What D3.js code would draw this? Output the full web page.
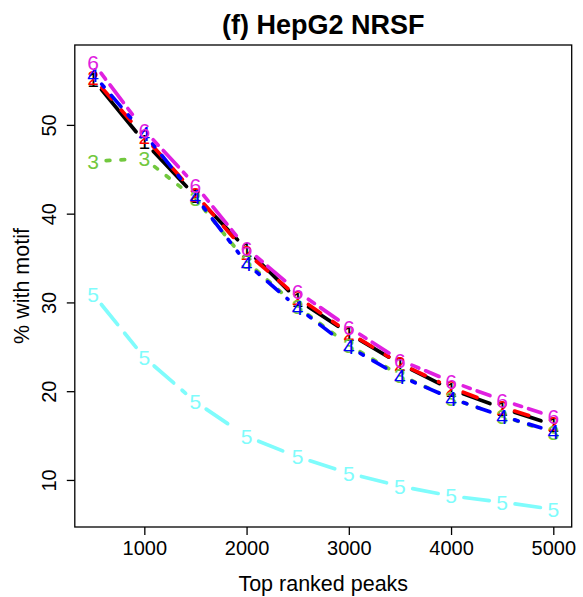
<!DOCTYPE html>
<html>
<head>
<meta charset="utf-8">
<script src="https://cdn.jsdelivr.net/npm/d3@7"></script>
<style>
  body { margin: 0; background: white; }
  text { font-family: "Liberation Sans", Arial, sans-serif; }
</style>
</head>
<body>
<div id="chart"></div>
<script>
// data
var peaks = [500, 1000, 1500, 2000, 2500, 3000, 3500, 4000, 4500, 5000]
var s1 = [55.1, 48.1, 42.0, 36.0, 30.3, 26.5, 23.1, 20.2, 18.1, 16.2]
var s2 = [55.3, 48.7, 42.2, 35.6, 30.6, 26.6, 23.1, 20.4, 18.2, 16.4]
var s3 = [45.9, 46.2, 41.7, 34.6, 29.5, 25.2, 21.8, 19.2, 17.2, 15.3]
var s4 = [55.7, 49.0, 41.9, 34.4, 29.4, 25.0, 21.7, 19.2, 17.2, 15.45]
var s5 = [30.9, 23.8, 18.8, 14.9, 12.6, 10.75, 9.3, 8.2, 7.5, 6.7]
var s6 = [57.0, 49.4, 43.2, 36.1, 31.2, 27.2, 23.5, 21.1, 19.0, 17.1]
var seriesNames = ["1", "2", "3", "4", "5", "6"]
var xTicks = [1000, 2000, 3000, 4000, 5000]
var yTicks = [10, 20, 30, 40, 50]

var colors = ["#000000", "#ff0000", "#72c83e", "#0000ff", "#7ffcfc", "#e020e0"]
var lw = 3.7
// R lty patterns, in units of line width
var ltys = [null, [4, 4], [1, 3], [1, 3, 4, 3], [7, 3], [2, 2, 6, 2]]

drawchart()

function drawchart() {
	var allSeries = [s1, s2, s3, s4, s5, s6]
	var L = 74.8, R = 571.7, T = 45, B = 527

	var svg = d3.select("#chart")
		.append("svg")
		.attr("width", 583)
		.attr("height", 597)

	const xScale = d3.scaleLinear()
		.domain([320, 5180])
		.range([L, R]);

	const yScale = d3.scaleLinear()
		.domain([4.7, 59.0])
		.range([B, T]);

	// title
	svg.append("text")
		.attr("x", (L + R) / 2)
		.attr("y", 34)
		.style("text-anchor", "middle")
		.style("font-size", "27px")
		.style("font-weight", "bold")
		.text("(f) HepG2 NRSF")

	// axes
	const xAxis = d3.axisBottom(xScale)
		.tickValues(xTicks)
		.tickSize(8)
		.tickPadding(6)
		.tickFormat(d3.format("d"));
	const yAxis = d3.axisLeft(yScale)
		.tickValues(yTicks)
		.tickSize(8)
		.tickFormat(d3.format("d"));

	var gx = svg.append("g")
		.attr("transform", "translate(0," + B + ")")
		.call(xAxis)
	gx.select(".domain").remove()
	gx.selectAll("line").attr("stroke", "#000").attr("stroke-width", 1.3)
	gx.selectAll("text")
		.style("font-size", "20px")
		.style("font-family", "'Liberation Sans', Arial, sans-serif")
		.attr("fill", "#000")

	var gy = svg.append("g")
		.attr("transform", "translate(" + L + ", 0)")
		.call(yAxis)
	gy.select(".domain").remove()
	gy.selectAll("line").attr("stroke", "#000").attr("stroke-width", 1.3)
	gy.selectAll("text")
		.attr("x", 0)
		.attr("dy", 0)
		.attr("transform", "translate(-19, 0) rotate(-90)")
		.style("text-anchor", "middle")
		.style("font-size", "20px")
		.style("font-family", "'Liberation Sans', Arial, sans-serif")
		.attr("fill", "#000")

	// axis names
	svg.append("text")
		.attr("x", (L + R) / 2)
		.attr("y", 591)
		.style("text-anchor", "middle")
		.style("font-size", "21.5px")
		.text("Top ranked peaks")

	svg.append("text")
		.attr("transform", "translate(29," + (T + B) / 2 + ") rotate(-90)")
		.style("text-anchor", "middle")
		.style("font-size", "21.5px")
		.text("% with motif")

	// series: type="b" -> segments with gaps, digit as point symbol
	var gap = 13
	allSeries.forEach(function(vals, k) {
		var pts = peaks.map((p, i) => [xScale(p), yScale(vals[i])])
		var g = svg.append("g").attr("class", "series" + (k + 1))
		var segs = []
		for (var i = 0; i < pts.length - 1; i++) {
			var a = pts[i], b = pts[i + 1]
			var dx = b[0] - a[0], dy = b[1] - a[1]
			var len = Math.sqrt(dx * dx + dy * dy)
			if (len <= 2 * gap) continue
			var ux = dx / len, uy = dy / len
			segs.push([a[0] + ux * gap, a[1] + uy * gap, b[0] - ux * gap, b[1] - uy * gap])
		}
		g.selectAll("line")
			.data(segs)
			.join("line")
			.attr("x1", d => d[0])
			.attr("y1", d => d[1])
			.attr("x2", d => d[2])
			.attr("y2", d => d[3])
			.attr("stroke", colors[k])
			.attr("stroke-width", lw)
			.attr("stroke-linecap", "round")
			.attr("stroke-dasharray", ltys[k] ? ltys[k].map(v => v * lw).join(",") : null)

		g.selectAll("text")
			.data(pts)
			.join("text")
			.attr("x", d => d[0])
			.attr("y", d => d[1])
			.attr("dy", "0.36em")
			.style("text-anchor", "middle")
			.style("font-size", "21px")
			.attr("fill", colors[k])
			.text(seriesNames[k])
	})

	// plot box
	svg.append("rect")
		.attr("x", L)
		.attr("y", T)
		.attr("width", R - L)
		.attr("height", B - T)
		.attr("fill", "none")
		.attr("stroke", "#000")
		.attr("stroke-width", 1.3)
}
</script>
</body>
</html>
